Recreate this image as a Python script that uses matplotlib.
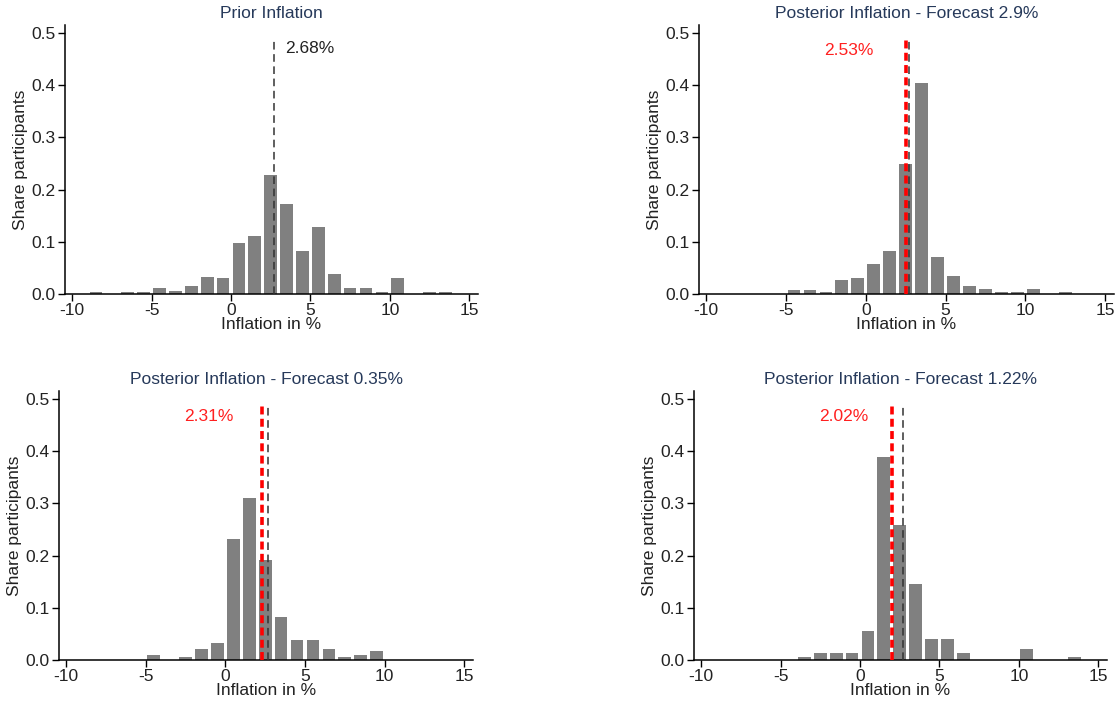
import numpy as np
import matplotlib
matplotlib.use("Agg")
import matplotlib.pyplot as plt

plt.rcParams["font.family"] = ["Liberation Sans", "DejaVu Sans"]
plt.rcParams["font.size"] = 12
plt.rcParams["axes.unicode_minus"] = False

# -------------------------------------------------
# Data: share of participants per 1-point bin (bin centres)
# -------------------------------------------------

prior_bins = [-8.5, -6.5, -5.5, -4.5, -3.5, -2.5, -1.5, -0.5, 0.5, 1.5, 2.5,
              3.5, 4.5, 5.5, 6.5, 7.5, 8.5, 9.5, 10.5, 12.5, 13.5]
prior_share = [0.003, 0.003, 0.003, 0.011, 0.006, 0.015, 0.032, 0.031, 0.097,
               0.111, 0.227, 0.172, 0.083, 0.129, 0.039, 0.011, 0.011, 0.003,
               0.031, 0.003, 0.003]

post29_bins = [-4.5, -3.5, -2.5, -1.5, -0.5, 0.5, 1.5, 2.5, 3.5, 4.5, 5.5,
               6.5, 7.5, 8.5, 9.5, 10.5, 12.5]
post29_share = [0.007, 0.007, 0.0045, 0.027, 0.031, 0.057, 0.082, 0.249, 0.404,
                0.071, 0.035, 0.015, 0.009, 0.003, 0.0045, 0.009, 0.003]

post035_bins = [-4.5, -2.5, -1.5, -0.5, 0.5, 1.5, 2.5, 3.5, 4.5, 5.5, 6.5,
                7.5, 8.5, 9.5]
post035_share = [0.009, 0.005, 0.021, 0.033, 0.231, 0.311, 0.192, 0.083, 0.039,
                 0.039, 0.021, 0.005, 0.009, 0.017]

post122_bins = [-3.5, -2.5, -1.5, -0.5, 0.5, 1.5, 2.5, 3.5, 4.5, 5.5, 6.5,
                10.5, 13.5]
post122_share = [0.005, 0.013, 0.013, 0.013, 0.055, 0.388, 0.259, 0.146, 0.041,
                 0.041, 0.013, 0.021, 0.005]

prior_mean = 2.68
titles = ["Prior Inflation",
          "Posterior Inflation - Forecast 2.9%",
          "Posterior Inflation - Forecast 0.35%",
          "Posterior Inflation - Forecast 1.22%"]
posterior_means = [None, 2.53, 2.31, 2.02]

panels = [(prior_bins, prior_share), (post29_bins, post29_share),
          (post035_bins, post035_share), (post122_bins, post122_share)]

# -------------------------------------------------
# Layout (pixel boxes -> figure fractions)
# -------------------------------------------------

W, H = 1115, 702
boxes = [(65, 478, 294, 25), (699, 1114, 294, 25),
         (59, 473, 660, 391), (694, 1107, 660, 391)]

fig = plt.figure(figsize=(W / 100, H / 100), dpi=100)

title_color = "#26395a"
text_color = "#222222"

for i, (bins, share) in enumerate(panels):
    x0, x1, yb, yt = boxes[i]
    ax = fig.add_axes([x0 / W, 1 - yb / H, (x1 - x0) / W, (yb - yt) / H])

    ax.bar(bins, share, width=0.8, color="#808080",
           edgecolor="none", linewidth=0, zorder=2)

    ax.vlines(prior_mean, 0, 0.49, colors="#333333", linestyles=(0, (5, 3)),
              linewidth=1.1, zorder=3)

    if posterior_means[i] is None:
        ax.text(3.4, 0.47, f"{prior_mean:.2f}%", color=text_color,
                ha="left", va="center", fontsize=12.5)
    else:
        ax.vlines(posterior_means[i], 0, 0.49, colors="#ff0000",
                  linestyles=(0, (2.2, 1.2)), linewidth=2.6, zorder=4)
        ax.text(0.5, 0.467, f"{posterior_means[i]:.2f}%", color="#ff2020",
                ha="right", va="center", fontsize=12.5)

    ax.set_xlim(-10.45, 15.55)
    ax.set_ylim(0, 0.515)
    ax.set_xticks([-10, -5, 0, 5, 10, 15])
    ax.set_yticks([0, 0.1, 0.2, 0.3, 0.4, 0.5])
    ax.set_yticklabels(["0.0", "0.1", "0.2", "0.3", "0.4", "0.5"])
    ax.tick_params(direction="out", length=5, width=1, colors="black",
                   labelcolor=text_color, labelsize=12.5, pad=1.5)

    for side in ["top", "right"]:
        ax.spines[side].set_visible(False)
    for side in ["left", "bottom"]:
        ax.spines[side].set_linewidth(1.1)

    ax.set_title(titles[i], color=title_color, fontsize=12.5, pad=5)
    ax.set_xlabel("Inflation in %", color=text_color, fontsize=12.5,
                  labelpad=-1)
    ax.set_ylabel("Share participants", color=text_color, fontsize=12.5,
                  labelpad=3)

plt.savefig("out.png", dpi=100)
